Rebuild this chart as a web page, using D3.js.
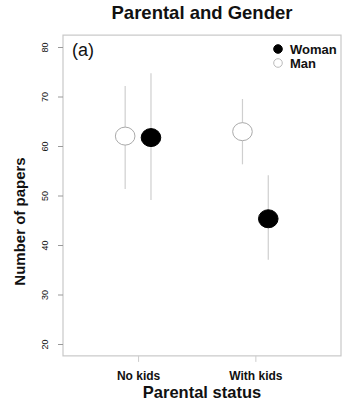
<!DOCTYPE html>
<html>
<head>
<meta charset="utf-8">
<script src="https://cdn.jsdelivr.net/npm/d3@7"></script>
<style>
  body { margin: 0; background: #fff; }
  text { font-family: "Liberation Sans", Arial, sans-serif; fill: #111; }
</style>
</head>
<body>
<svg width="343" height="402"></svg>
<script>
var categories = ["No kids", "With kids"];
var groups = ["Woman", "Man"];
var manMean = [62.0, 62.9],
    manLow = [51.3, 56.3],
    manHigh = [72.1, 69.5];
var womanMean = [61.7, 45.3],
    womanLow = [49.1, 37.0],
    womanHigh = [74.7, 54.1];
var yTicks = [20, 30, 40, 50, 60, 70, 80];

var svg = d3.select("svg");

// R style plot region, with 4% padding around the 20-80 range
var x = d3.scaleLinear().domain([0.36, 2.73]).range([63, 341]),
    y = d3.scaleLinear().domain([20, 80]).range([344, 47]);

var dodge = 0.11;
var points = [];
categories.forEach(function(c, i) {
  points.push({cat: i + 1 - dodge, g: "Man", mean: manMean[i], lo: manLow[i], hi: manHigh[i]});
  points.push({cat: i + 1 + dodge, g: "Woman", mean: womanMean[i], lo: womanLow[i], hi: womanHigh[i]});
});

// box
svg.append("rect")
    .attr("x", x(0.36)).attr("y", y(82.4))
    .attr("width", x(2.73) - x(0.36)).attr("height", y(17.6) - y(82.4))
    .attr("fill", "none").attr("stroke", "#c8c8c8").attr("stroke-width", 1.2);

// y axis
var yAxis = svg.append("g")
    .attr("transform", "translate(" + x(0.36) + ",0)")
    .call(d3.axisLeft(y).tickValues(yTicks).tickSize(5).tickPadding(0));
yAxis.select(".domain").remove();
yAxis.selectAll(".tick line").attr("stroke", "#999");
yAxis.selectAll(".tick text")
    .attr("x", 0).attr("dy", "0.35em")
    .attr("transform", "translate(-18,0) rotate(-90)")
    .attr("text-anchor", "middle")
    .style("font-size", "9px").style("font-family", "Liberation Sans, Arial, sans-serif")
    .attr("fill", "#333");

// x axis
var xAxis = svg.append("g")
    .attr("transform", "translate(0," + y(17.6) + ")")
    .call(d3.axisBottom(x).tickValues([1, 2]).tickSize(6).tickPadding(10)
      .tickFormat(function(d) { return categories[d - 1]; }));
xAxis.select(".domain").remove();
xAxis.selectAll(".tick line").attr("stroke", "#ccc");
xAxis.selectAll(".tick text")
    .style("font-size", "12px").style("font-weight", "bold")
    .style("font-family", "Liberation Sans, Arial, sans-serif")
    .attr("fill", "#111");

// error bars
svg.selectAll(".err")
  .data(points)
  .enter().append("line")
    .attr("class", "err")
    .attr("x1", function(d) { return x(d.cat); })
    .attr("x2", function(d) { return x(d.cat); })
    .attr("y1", function(d) { return y(d.lo); })
    .attr("y2", function(d) { return y(d.hi); })
    .attr("stroke", "#cfcfcf").attr("stroke-width", 1.2);

// means
svg.selectAll(".pt")
  .data(points)
  .enter().append("ellipse")
    .attr("class", "pt")
    .attr("cx", function(d) { return x(d.cat); })
    .attr("cy", function(d) { return y(d.mean); })
    .attr("rx", 9.8).attr("ry", 9)
    .attr("fill", function(d) { return d.g == "Woman" ? "#000" : "#fff"; })
    .attr("stroke", function(d) { return d.g == "Woman" ? "#000" : "#aaa"; })
    .attr("stroke-width", 1);

// legend
var legend = svg.selectAll(".leg")
  .data(groups)
  .enter().append("g")
    .attr("class", "leg")
    .attr("transform", function(d, i) { return "translate(278," + (49 + i * 14) + ")"; });
legend.append("circle")
    .attr("r", 4.3)
    .attr("fill", function(d) { return d == "Woman" ? "#000" : "#fff"; })
    .attr("stroke", function(d) { return d == "Woman" ? "#000" : "#bbb"; });
legend.append("text")
    .attr("x", 12).attr("dy", "0.36em")
    .style("font-size", "13px").style("font-weight", "bold")
    .text(function(d) { return d; });

// panel label
svg.append("text")
    .attr("x", 72).attr("y", 56)
    .style("font-size", "18px")
    .text("(a)");

// titles
svg.append("text")
    .attr("x", 202).attr("y", 19)
    .attr("text-anchor", "middle")
    .style("font-size", "18.5px").style("font-weight", "bold")
    .text("Parental and Gender");

svg.append("text")
    .attr("x", 202).attr("y", 398)
    .attr("text-anchor", "middle")
    .style("font-size", "16.5px").style("font-weight", "bold")
    .text("Parental status");

svg.append("text")
    .attr("transform", "translate(25," + ((133 + 310) / 2) + ") rotate(-90)")
    .attr("text-anchor", "middle")
    .style("font-size", "15px").style("font-weight", "bold")
    .text("Number of papers");
</script>
</body>
</html>
